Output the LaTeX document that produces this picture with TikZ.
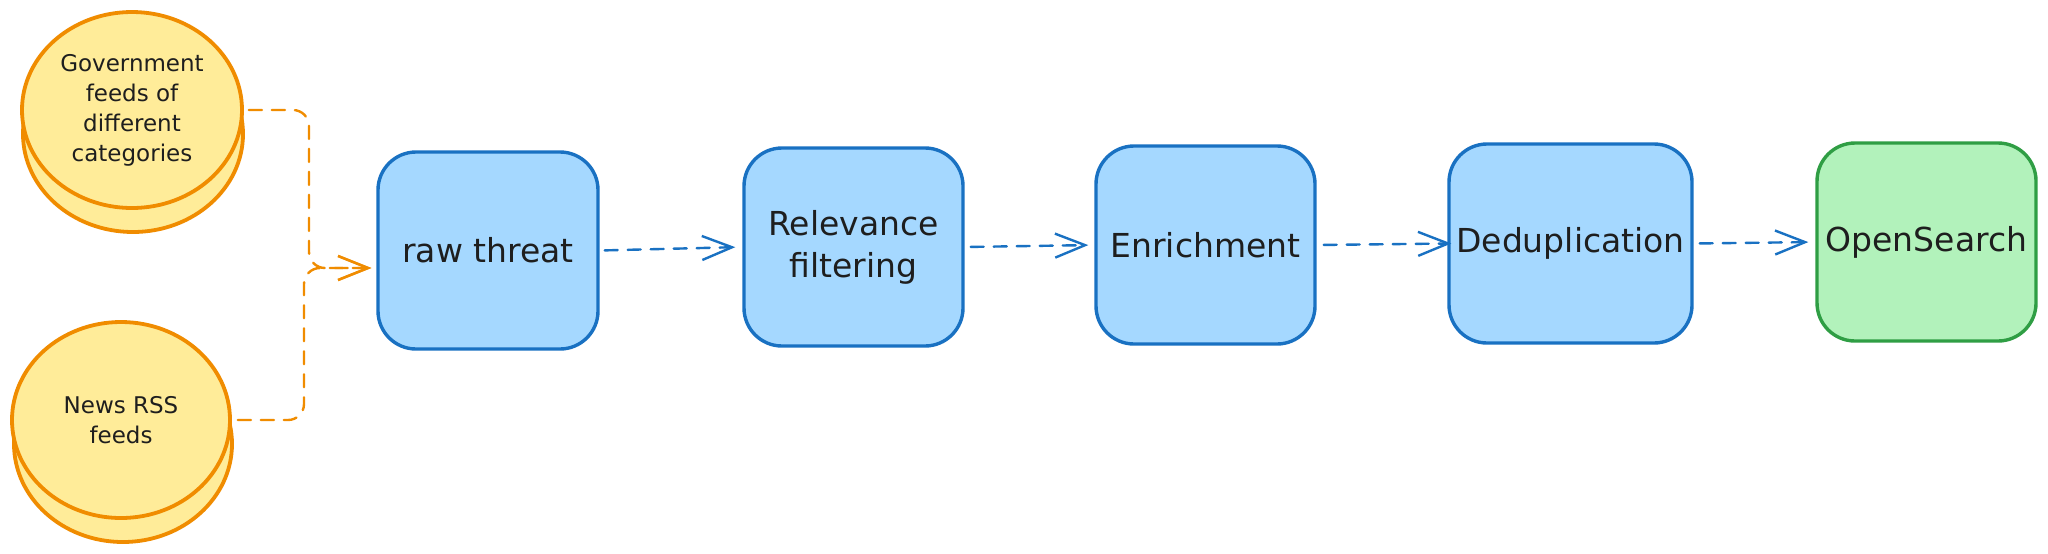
\documentclass[tikz,border=0pt]{standalone}
\usepackage{fontspec}
\setmainfont{DejaVu Sans}
\usetikzlibrary{shapes.geometric,arrows.meta}
\definecolor{ostroke}{HTML}{F08C00}
\definecolor{ofill}{HTML}{FFEC99}
\definecolor{bstroke}{HTML}{1971C2}
\definecolor{bfill}{HTML}{A5D8FF}
\definecolor{gstroke}{HTML}{2F9E44}
\definecolor{gfill}{HTML}{B2F2BB}
\definecolor{ink}{HTML}{1E1E1E}
\begin{document}
\begin{tikzpicture}[x=0.5pt,y=-0.5pt,
  box/.style={rectangle, rounded corners=19pt, draw=bstroke, fill=bfill, line width=1.7pt,
    inner sep=0pt, align=center, text=ink, font=\fontsize{16.5}{21}\selectfont},
  greenbox/.style={box, draw=gstroke, fill=gfill},
  cylbase/.style={draw=ostroke, fill=ofill, line width=1.9pt},
  cyltop/.style={ellipse, draw=ostroke, fill=ofill, line width=1.9pt, inner sep=0pt,
    align=center, text=ink, font=\fontsize{11.5}{15}\selectfont},
  conn/.style={line width=1.2pt, dash pattern=on 6.5pt off 5pt, line cap=round,
    -{Straight Barb[length=15pt,width=12pt]}},
  bconn/.style={conn, draw=bstroke},
  oconn/.style={conn, draw=ostroke, rounded corners=8pt}
]
\useasboundingbox (0,0) rectangle (2048,553);
\fill[white] (0,0) rectangle (2048,553);

% cylinders
\draw[cylbase] (133,134) ellipse [x radius=55pt, y radius=49pt];
\node[cyltop, minimum width=110pt, minimum height=98pt] (gov) at (132,110)
  {Government\\feeds of\\different\\categories};
\draw[cylbase] (123,444) ellipse [x radius=54.5pt, y radius=49pt];
\node[cyltop, minimum width=109pt, minimum height=98pt] (news) at (121,420)
  {News RSS\\feeds};

% boxes
\node[box, minimum width=110pt, minimum height=98.5pt] (raw) at (488,250.5) {raw threat};
\node[box, minimum width=109.5pt, minimum height=99pt] (rel) at (853.5,247) {Relevance\\filtering};
\node[box, minimum width=109.5pt, minimum height=99pt] (enr) at (1205.5,245) {Enrichment};
\node[box, minimum width=121.5pt, minimum height=99.5pt] (dedup) at (1570.5,243.5) {Deduplication};
\node[greenbox, minimum width=109.5pt, minimum height=99pt] (os) at (1926.5,242) {OpenSearch};

% orange connectors
\coordinate (jn) at ([xshift=-2.5pt,yshift=-8.75pt]raw.west);
\coordinate (gv) at (309,268);
\coordinate (nv) at (304,268);
\draw[oconn] ([xshift=2.5pt]gov.east) -| (gv) -- (jn);
\draw[oconn] ([xshift=3pt]news.east) -| (nv) -- (jn);

% blue connectors
\draw[bconn, shorten <=2.5pt, shorten >=3.5pt] (raw.east) -- (rel.west);
\draw[bconn, shorten <=3pt, shorten >=3pt] (rel.east) -- (enr.west);
\draw[bconn, shorten <=3.5pt, shorten >=-2pt] (enr.east) -- (dedup.west);
\draw[bconn, shorten <=3pt, shorten >=3.5pt] (dedup.east) -- (os.west);
\end{tikzpicture}
\end{document}
